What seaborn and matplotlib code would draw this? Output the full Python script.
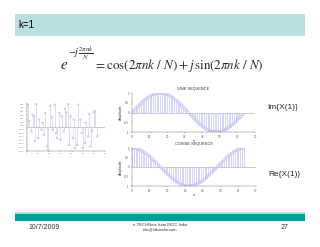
import numpy as np
import pandas as pd
import matplotlib
matplotlib.use("Agg")
import matplotlib.pyplot as plt
import seaborn as sns

# ---------------- data ----------------
header_text = "k=1"
im_label = "Im{X(1)}"
re_label = "Re{X(1)}"
date_text = "10/7/2009"
footer_line1 = "e-TECHNote from IRDC India"
footer_line2 = "info@irdcindia.com"
page_text = "27"

# left panel: mixed signal
mix_vals = [0.93, 0.25, -0.18, 0.51, 0.44, -0.60, 0.96, -0.46, 0.31, -0.11,
            0.17, -0.32, 0.58, -0.81, -0.94, 0.89, 0.42, -0.11, 0.93, -0.25,
            -0.46, 0.58, -0.53, 0.44, -0.18, 0.75, 0.61, 0.96, -0.74, 0.44,
            -0.46, 0.31, -0.88, -0.74, 0.93, 0.31, -0.25, -0.88, -0.67, 0.17,
            -0.39, 0.54, -0.81, -0.18, 0.61, 0.65, -0.39]
mix_n = [1, 2, 4, 5, 6, 7, 8, 10, 11, 13, 14, 15, 16, 18, 19, 21, 22, 23, 25, 26,
         27, 29, 30, 31, 33, 34, 35, 37, 38, 39, 41, 42, 43, 45, 46, 48, 49, 50,
         52, 53, 55, 56, 57, 58, 60, 61, 63]

n_idx = list(range(64))
sine_vals = [0.00, 0.10, 0.20, 0.29, 0.38, 0.47, 0.56, 0.63, 0.71, 0.77, 0.83, 0.88, 0.92, 0.96, 0.98, 1.00,
             1.00, 1.00, 0.98, 0.96, 0.92, 0.88, 0.83, 0.77, 0.71, 0.63, 0.56, 0.47, 0.38, 0.29, 0.20, 0.10,
             0.00, -0.10, -0.20, -0.29, -0.38, -0.47, -0.56, -0.63, -0.71, -0.77, -0.83, -0.88, -0.92, -0.96, -0.98, -1.00,
             -1.00, -1.00, -0.98, -0.96, -0.92, -0.88, -0.83, -0.77, -0.71, -0.63, -0.56, -0.47, -0.38, -0.29, -0.20, -0.10]
cos_vals = [1.00, 1.00, 0.98, 0.96, 0.92, 0.88, 0.83, 0.77, 0.71, 0.63, 0.56, 0.47, 0.38, 0.29, 0.20, 0.10,
            0.00, -0.10, -0.20, -0.29, -0.38, -0.47, -0.56, -0.63, -0.71, -0.77, -0.83, -0.88, -0.92, -0.96, -0.98, -1.00,
            -1.00, -1.00, -0.98, -0.96, -0.92, -0.88, -0.83, -0.77, -0.71, -0.63, -0.56, -0.47, -0.38, -0.29, -0.20, -0.10,
            0.00, 0.10, 0.20, 0.29, 0.38, 0.47, 0.56, 0.63, 0.71, 0.77, 0.83, 0.88, 0.92, 0.96, 0.98, 1.00]

x_ticks = [0, 10, 20, 30, 40, 50, 60, 70]
y_ticks = [-1, -0.5, 0, 0.5, 1]
y_ticklabels = ["-1", "-0.5", "0", "0.5", "1"]

# ---------------- figure ----------------
sns.set_theme(style="white")
plt.rcParams['font.family'] = ['Liberation Sans', 'DejaVu Sans']
plt.rcParams['mathtext.fontset'] = 'stix'

W, H = 320, 247
fig = plt.figure(figsize=(W / 100, H / 100), dpi=100)
fig.patch.set_facecolor("white")

def px_rect(x0, y0, x1, y1):
    return [x0 / W, 1 - y1 / H, (x1 - x0) / W, (y1 - y0) / H]

bg = fig.add_axes([0, 0, 1, 1])
bg.set_xlim(0, W); bg.set_ylim(H, 0); bg.axis("off")
bg.add_patch(plt.Rectangle((15, 14), 290, 22, color="#b9dfe2", lw=0))
bg.text(18, 25, header_text, fontsize=7, va="center", ha="left", color="black")
bg.text(60, 65, r"$e$", fontsize=10.5, ha="left", va="center")
bg.text(68, 53, r"$-j\,\frac{2\pi nk}{N}$", fontsize=7, ha="left", va="center")
bg.text(94, 65, r"$= \cos(2\pi nk\ /\ N) + j\,\sin(2\pi nk\ /\ N)$",
        fontsize=9.4, ha="left", va="center")
bg.add_patch(plt.Rectangle((15, 212), 290, 1.5, color="#c8d0d0", lw=0))
bg.add_patch(plt.Rectangle((15, 213.5), 290, 7, color="#009b9b", lw=0))
bg.text(44, 227, date_text, fontsize=5, ha="center", va="center", color="#333333")
bg.text(160, 224.5, footer_line1, fontsize=3, ha="center", va="center", color="#333333")
bg.text(160, 229, footer_line2, fontsize=3, ha="center", va="center", color="#333333")
bg.text(285, 227, page_text, fontsize=5, ha="center", va="center", color="#333333")
bg.text(267, 107, im_label, fontsize=6, ha="left", va="center")
bg.text(268, 174, re_label, fontsize=6, ha="left", va="center")

stem_color = "#c4c4f4"

def stem_panel(ax, n, v, marker_size, lw=0.5):
    df = pd.DataFrame({"n": n, "v": v})
    ax.vlines(df["n"], 0, df["v"], color=stem_color, lw=lw)
    sns.scatterplot(data=df, x="n", y="v", ax=ax, s=marker_size, marker="o",
                    facecolor="none", edgecolor=stem_color, linewidth=0.6, legend=False)
    ax.axhline(0, color="#a0a0a0", lw=0.4, zorder=0)
    ax.set_xlabel(""); ax.set_ylabel("")
    for sp in ["top", "right"]:
        ax.spines[sp].set_visible(False)
    for sp in ["left", "bottom"]:
        ax.spines[sp].set_linewidth(0.3)
        ax.spines[sp].set_color("#666666")
    ax.tick_params(axis="both", labelsize=2.2, length=1, width=0.3, pad=0.8, colors="#555555")
    ax.tick_params(axis="both", which="both", bottom=True, left=True)

# left panel
axL = fig.add_axes(px_rect(27, 103, 105, 151))
stem_panel(axL, mix_n, mix_vals, 1.2, lw=0.4)
axL.set_xlim(0, 70); axL.set_ylim(-1, 1)
axL.set_xticks(x_ticks)
axL.set_yticks(np.round(np.arange(-1, 1.01, 0.15), 2))
axL.tick_params(labelsize=1.6, colors="#777777")

# sine panel
axS = fig.add_axes(px_rect(132, 93, 255, 132))
stem_panel(axS, n_idx, sine_vals, 3)
axS.set_xlim(0, 70); axS.set_ylim(-1, 1)
axS.set_xticks(x_ticks); axS.set_yticks(y_ticks); axS.set_yticklabels(y_ticklabels)
axS.set_title("SINE SEQUENCE", fontsize=2.8, pad=2, color="#333333")
axS.set_xlabel("n", fontsize=2.5, labelpad=0.5, color="#333333")
axS.set_ylabel("Amplitude", fontsize=2.5, labelpad=1, color="#333333")

# cosine panel
axC = fig.add_axes(px_rect(132, 148, 256, 186))
stem_panel(axC, n_idx, cos_vals, 3)
axC.set_xlim(0, 70); axC.set_ylim(-1, 1)
axC.set_xticks(x_ticks); axC.set_yticks(y_ticks); axC.set_yticklabels(y_ticklabels)
axC.set_title("COSINE SEQUENCE", fontsize=2.8, pad=2, color="#333333")
axC.set_xlabel("n", fontsize=2.5, labelpad=0.5, color="#333333")
axC.set_ylabel("Amplitude", fontsize=2.5, labelpad=1, color="#333333")

fig.savefig("out.png", dpi=100, facecolor="white")
